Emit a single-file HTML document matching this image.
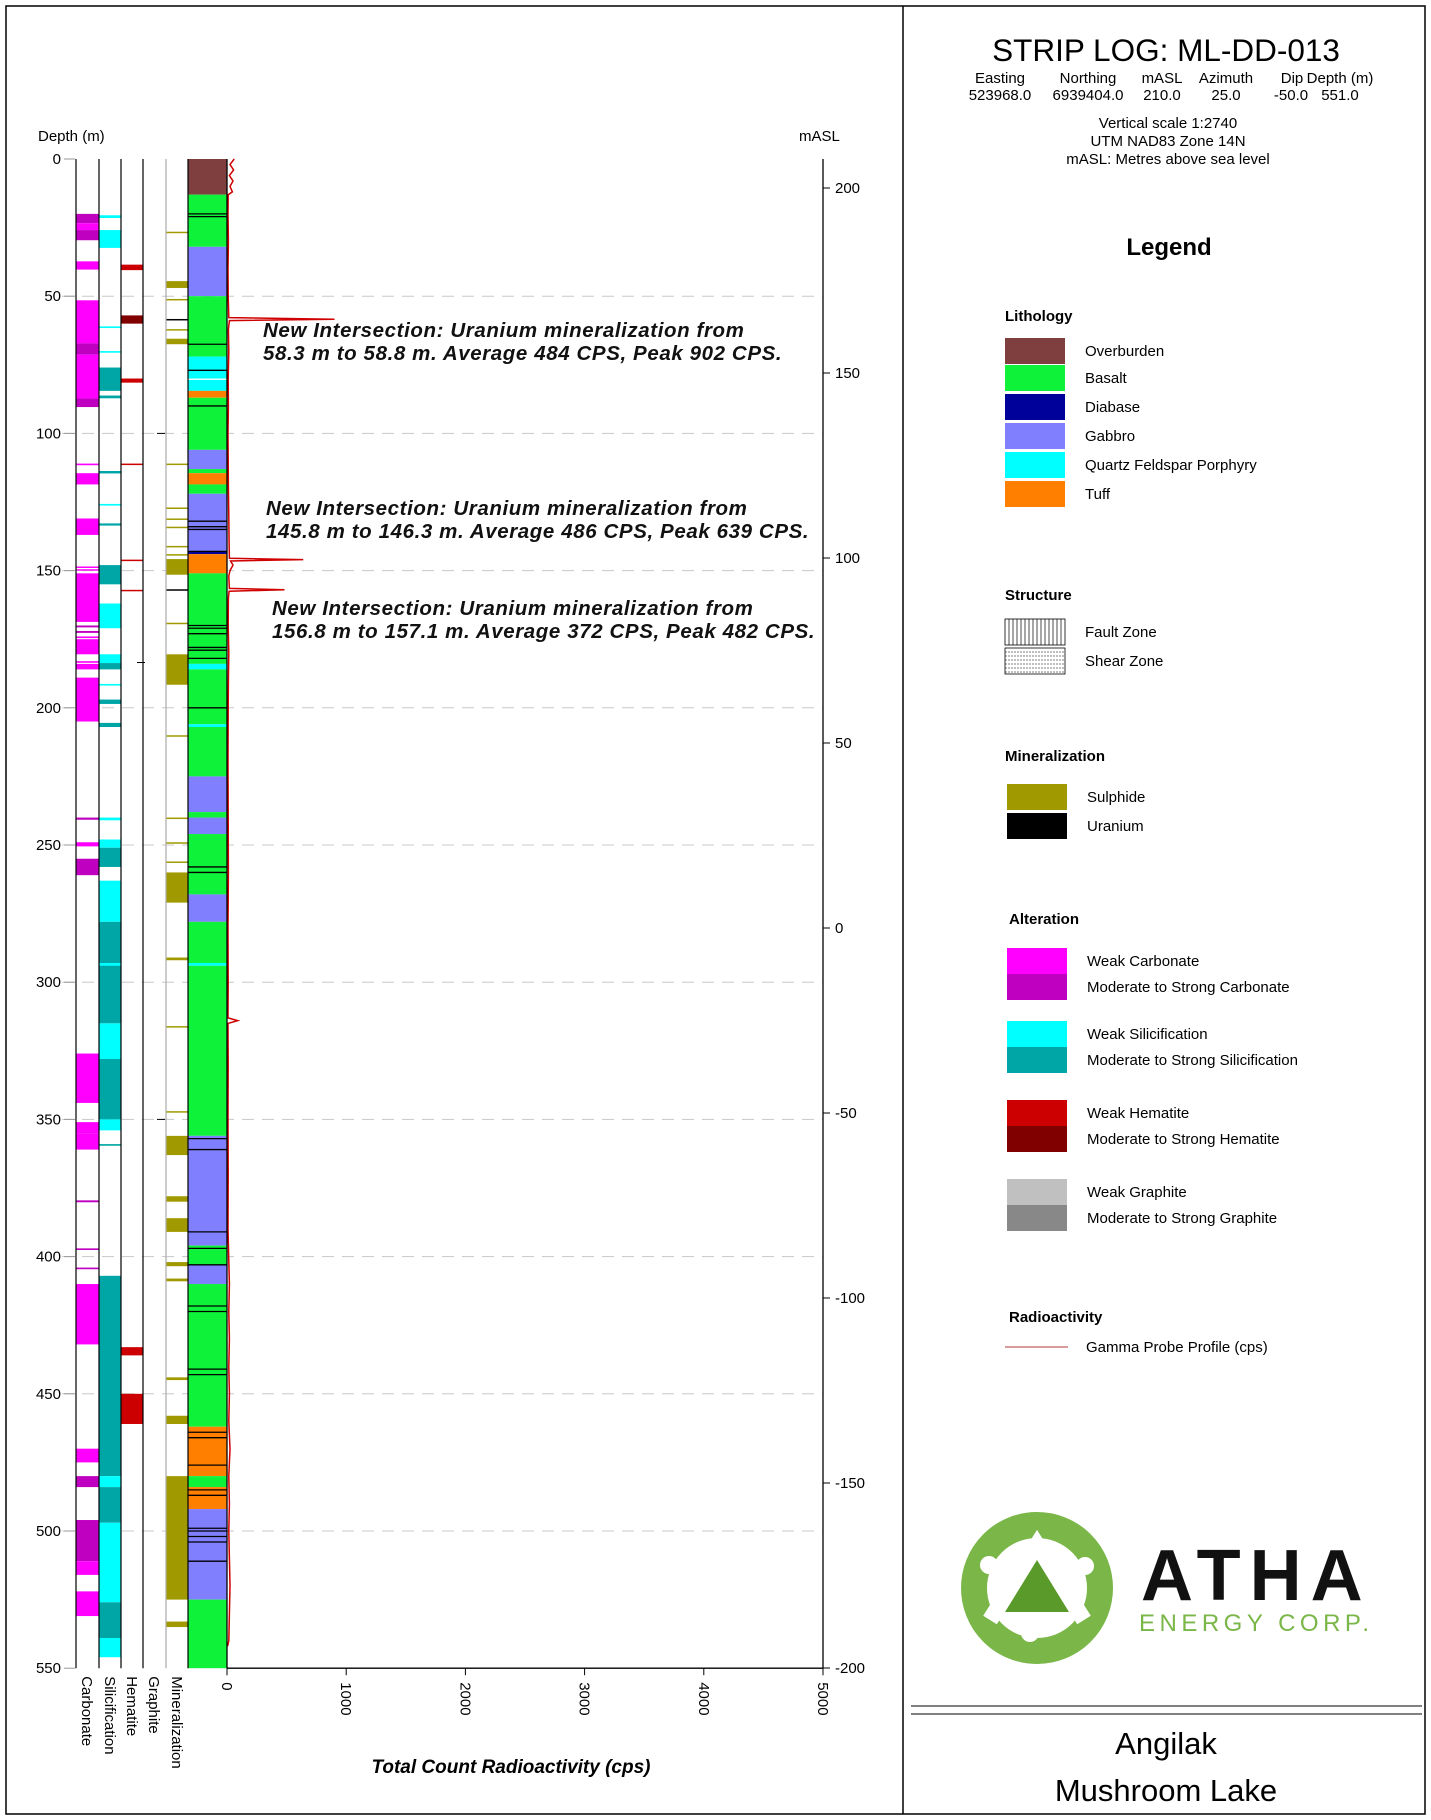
<!DOCTYPE html>
<html><head><meta charset="utf-8"><style>
body{margin:0;background:#fff}
svg{display:block;font-family:"Liberation Sans",Arial,sans-serif}
</style></head><body>
<svg width="1431" height="1820" viewBox="0 0 1431 1820" xmlns="http://www.w3.org/2000/svg">
<rect x="6" y="6" width="1419" height="1808" fill="#fff" stroke="#000" stroke-width="1.5"/>
<line x1="903" y1="6" x2="903" y2="1814" stroke="#000" stroke-width="1.5"/>
<g id="grid"></g>
<g id="cols"></g>
<g id="axes"></g>
<text x="38" y="141" font-size="15">Depth (m)</text>
<text x="799" y="141" font-size="15">mASL</text>
<g font-size="20.5" font-weight="bold" font-style="italic" fill="#111" letter-spacing="0.6">
<text x="263" y="337">New Intersection: Uranium mineralization from</text>
<text x="263" y="360">58.3 m to 58.8 m. Average 484 CPS, Peak 902 CPS.</text>
<text x="266" y="515">New Intersection: Uranium mineralization from</text>
<text x="266" y="538">145.8 m to 146.3 m. Average 486 CPS, Peak 639 CPS.</text>
<text x="272" y="615">New Intersection: Uranium mineralization from</text>
<text x="272" y="638">156.8 m to 157.1 m. Average 372 CPS, Peak 482 CPS.</text>
</g>
<text x="511" y="1773" font-size="19" font-weight="bold" font-style="italic" text-anchor="middle">Total Count Radioactivity (cps)</text>

<!-- header -->
<text x="1166" y="61" font-size="31.5" text-anchor="middle">STRIP LOG: ML-DD-013</text>
<g font-size="15" text-anchor="middle">
<text x="1000" y="83">Easting</text><text x="1000" y="100">523968.0</text>
<text x="1088" y="83">Northing</text><text x="1088" y="100">6939404.0</text>
<text x="1162" y="83">mASL</text><text x="1162" y="100">210.0</text>
<text x="1226" y="83">Azimuth</text><text x="1226" y="100">25.0</text>
<text x="1292" y="83">Dip</text><text x="1291" y="100">-50.0</text>
<text x="1340" y="83">Depth (m)</text><text x="1340" y="100">551.0</text>
<text x="1168" y="128">Vertical scale 1:2740</text>
<text x="1168" y="146">UTM NAD83 Zone 14N</text>
<text x="1168" y="164">mASL: Metres above sea level</text>
</g>
<text x="1169" y="255" font-size="24" font-weight="bold" text-anchor="middle">Legend</text>
<g id="legend" font-size="15"></g>

<!-- logo -->
<g>
<circle cx="1037" cy="1588" r="63" fill="none" stroke="#7ab648" stroke-width="26"/>
<path d="M990 1620 L1037 1545 L1084 1620" fill="none" stroke="#fff" stroke-width="16"/>
<path d="M1005 1612 L1037 1560 L1069 1612 Z" fill="#5a9a2a"/>
<circle cx="1085" cy="1566" r="9" fill="#fff"/><circle cx="989" cy="1565" r="9" fill="#fff"/><circle cx="1030" cy="1633" r="9" fill="#fff"/>
<text x="1141" y="1600" font-size="72" font-weight="bold" fill="#111" letter-spacing="9">ATHA</text>
<text x="1139" y="1631" font-size="24" fill="#7ab648" letter-spacing="4.5">ENERGY CORP.</text>
</g>
<line x1="911" y1="1706" x2="1422" y2="1706" stroke="#000"/>
<line x1="911" y1="1714" x2="1422" y2="1714" stroke="#000"/>
<text x="1166" y="1754" font-size="31" text-anchor="middle">Angilak</text>
<text x="1166" y="1801" font-size="31" text-anchor="middle">Mushroom Lake</text>
</svg>
<script>
const NS="http://www.w3.org/2000/svg";
// ---- data ----
const depthTicks=[0,50,100,150,200,250,300,350,400,450,500,550];
const maslTicks=[200,150,100,50,0,-50,-100,-150,-200];
const cpsTicks=[0,1000,2000,3000,4000,5000];
const lithFrom=[0,13,32,50,72,80.5,84.5,87,106,113,114.5,118.6,122,143,144,151,184,186,206,207,225,238,240,246,268,278,293,294,356,396,403,410,462,480,484,492,525];
const lithTo=[13,32,50,72,80,84.5,87,106,113,114.5,118.6,122,143,144,151,184,186,206,207,225,238,240,246,268,278,293,294,356,396,403,410,462,480,484,492,525,550];
const lithType=["OB","BA","GA","BA","QF","QF","TU","BA","GA","BA","TU","BA","GA","DI","TU","BA","QF","BA","QF","BA","GA","BA","GA","BA","GA","BA","QF","BA","GA","BA","GA","BA","TU","BA","TU","GA","BA"];
const uraniumLines=[20,21,67.5,77,90,132,134,135,143,170,171,173,178,179,182,200,258,260,357,361,391,397,403,418,420,441,443,464,466,476,485,487,499,500,502,504,511];
const carbFrom=[20,23.4,25.9,37.3,51.5,67.2,71.3,87.3,111,114.5,131,148.5,149.5,151,170,172,174,175,183,184,189,240,249,255,326,351,355,379.5,397,404,410,470,480,496,511,522];
const carbTo=[23.4,25.9,29.6,40.3,67.2,71.3,87.3,90.4,111.6,118.6,137,149,150,168.7,170.7,172.7,174.6,180.5,183.6,186,205,240.8,250.5,261,344,355,361,380.2,397.6,404.6,432,475,484,511,516,531];
const carbType=["S","W","S","W","W","S","W","S","W","W","W","W","W","W","S","S","W","W","W","W","W","S","W","S","W","W","W","S","S","S","W","W","S","S","W","W"];
const silFrom=[20.5,25.9,61,70,76,86.2,113.7,125.7,132.8,148,162,180.5,183.7,191.3,197,205.5,240,248,251,263,278,293,315,328,350,359,407,480,484,497,526,539];
const silTo=[21.5,32.4,61.6,70.6,84.5,87.2,114.6,126.3,133.6,155,171,183.7,186,191.9,198.6,207,241,251,258,278,315,294,328,350,354,359.6,480,484,497,526,539,546];
const silType=["W","W","W","W","S","S","S","W","S","S","W","W","S","W","S","S","W","W","S","W","S","W","W","S","W","S","S","W","S","W","S","W"];
const hemFrom=[38.5,57,80,111,146,157,433,450];
const hemTo=[40.5,60,81.5,111.5,146.5,157.5,436,461];
const hemType=["W","S","W","W","W","W","W","W"];
const minFrom=[26.5,44.5,51,58.3,62,65.5,111,127,131,134,141,144,145.8,156.8,169,180.5,210,240,249,256,260,291,316,347,356,378,386,402,408,444,458,480,533];
const minTo=[27,47,51.5,58.8,62.5,67.5,111.5,127.5,131.5,134.5,141.5,144.5,151.5,157.3,169.5,191.6,210.5,240.5,249.5,256.5,271,292,316.5,347.5,363,380,391,403.5,409,445,461,525,535];
const minType=["S","S","S","U","S","S","S","S","S","S","S","S","S","U","S","S","S","S","S","S","S","S","S","S","S","S","S","S","S","S","S","S","S"];
const gammaDepth=[0,2,4,6,8,10,12,13,20,30,40,50,57.8,58.4,58.9,62,70,80,90,100,110,120,130,140,145.5,146,146.5,148,150,152,156.5,157,157.5,160,170,180,190,200,220,240,260,280,300,313,314,315,330,350,370,390,410,420,430,440,450,460,470,480,490,500,510,520,530,540,542];
const gammaCps=[60,25,55,20,50,25,45,10,8,12,8,10,15,902,20,12,15,10,12,8,10,12,15,18,20,639,30,50,25,15,20,482,18,12,10,15,12,10,8,10,12,8,10,8,90,8,10,8,10,8,20,15,20,15,20,15,25,15,20,15,20,25,20,15,5];
// ---- scales ----
const y0=159,pxm=2.744;
const dy=d=>y0+d*pxm;
const my=m=>188+(200-m)*3.7;
const cx=c=>227+c*0.1192;
const litCol={OB:"#7f3f3f",BA:"#0ef23a",DI:"#00009a",GA:"#8080ff",QF:"#00ffff",TU:"#ff8000"};
function mk(tag,attrs,parent){const e=document.createElementNS(NS,tag);for(const k in attrs)e.setAttribute(k,attrs[k]);parent.appendChild(e);return e;}
const grid=document.getElementById('grid'),cols=document.getElementById('cols'),axes=document.getElementById('axes');
depthTicks.forEach(d=>{
 if(d>0&&d<550){const l=mk('line',{x1:62,x2:823,y1:dy(d),y2:dy(d),stroke:'#c8c8c8','stroke-dasharray':'12 8'},grid);
 
 }
 const t=mk('text',{x:61,y:dy(d)+5,'font-size':15,'text-anchor':'end'},axes);t.textContent=d;
 
 
 mk('line',{x1:64,x2:75,y1:dy(d),y2:dy(d),stroke:'#999'},axes);
});
function intervals(from,to,type,colors,x,w,name){
 from.forEach((f,i)=>{const r=mk('rect',{x:x,y:dy(f),width:w,height:Math.max(1.5,dy(to[i])-dy(f)),fill:colors[type[i]]},cols);
 
 });
}
intervals(carbFrom,carbTo,carbType,{W:"#ff00ff",S:"#c000c0"},76,23,'carbonate');
intervals(silFrom,silTo,silType,{W:"#00ffff",S:"#00a6a6"},99,22,'silicification');
intervals(hemFrom,hemTo,hemType,{W:"#cc0000",S:"#800000"},121,22,'hematite');
intervals(minFrom,minTo,minType,{S:"#a09a00",U:"#000000"},166,22,'mineralization');
intervals(lithFrom,lithTo,lithType,litCol,188,39,'lithology');
uraniumLines.forEach(d=>{const l=mk('line',{x1:188,x2:227,y1:dy(d),y2:dy(d),stroke:'#000','stroke-width':1.3},cols);
 
 });
[[100,163],[183.5,143],[350,163]].forEach(g=>mk('line',{x1:g[1]-6,x2:g[1]+2,y1:dy(g[0]),y2:dy(g[0]),stroke:'#000'},cols));
[[76,'#000'],[99,'#000'],[121,'#000'],[143,'#000'],[166,'#aaa'],[188,'#000']].forEach(c=>mk('line',{x1:c[0],x2:c[0],y1:y0,y2:dy(550),stroke:c[1],'stroke-width':1.2},cols));
// gamma
const pts=gammaDepth.map((d,i)=>cx(gammaCps[i]).toFixed(1)+','+dy(d).toFixed(1)).join(' ');
const gl=mk('polyline',{points:pts,fill:'none',stroke:'#d00000','stroke-width':1.5},cols);


// axes
mk('line',{x1:227,x2:227,y1:y0,y2:dy(550),stroke:'#000','stroke-width':1.3},axes);
mk('line',{x1:227,x2:823,y1:dy(550),y2:dy(550),stroke:'#000','stroke-width':1.3},axes);
mk('line',{x1:823,x2:823,y1:y0,y2:dy(550),stroke:'#000','stroke-width':1.3},axes);
cpsTicks.forEach(c=>{mk('line',{x1:cx(c),x2:cx(c),y1:dy(550),y2:dy(550)+7,stroke:'#000'},axes);
 const t=mk('text',{x:0,y:0,'font-size':15,transform:`translate(${cx(c)-5},${dy(550)+14}) rotate(90)`},axes);t.textContent=c;
 
 });
maslTicks.forEach(m=>{mk('line',{x1:823,x2:830,y1:my(m),y2:my(m),stroke:'#000'},axes);
 const t=mk('text',{x:835,y:my(m)+5,'font-size':15},axes);t.textContent=m;
 
 });
[['Carbonate',82],['Silicification',105],['Hematite',127],['Graphite',149],['Mineralization',172]].forEach(c=>{
 const t=mk('text',{'font-size':15,transform:`translate(${c[1]},${dy(550)+8}) rotate(90)`},axes);t.textContent=c[0];
 
 });
// legend
const lg=document.getElementById('legend');
function head(txt,x,y){const t=mk('text',{x:x,y:y,'font-weight':'bold','font-size':15},lg);t.textContent=txt;
 
 }
function entry(col,txt,x,y,h,pat){const r=mk('rect',{x:x,y:y,width:60,height:h,fill:col,stroke:pat?'#000':'none','stroke-width':0.8},lg);
 
 
 if(pat==='fault'){for(let i=4;i<60;i+=4)mk('line',{x1:x+i,x2:x+i,y1:y,y2:y+h,stroke:'#000','stroke-width':0.7},lg);}
 if(pat==='shear'){for(let j=4;j<h;j+=4)mk('line',{x1:x,x2:x+60,y1:y+j,y2:y+j,stroke:'#000','stroke-width':0.6,'stroke-dasharray':'2 1'},lg);}
 const t=mk('text',{x:x+80,y:y+h/2+5},lg);t.textContent=txt;
 
 }
head('Lithology',1005,321);
[['#7f3f3f','Overburden',338],['#0ef23a','Basalt',365],['#00009a','Diabase',394],['#8080ff','Gabbro',423],['#00ffff','Quartz Feldspar Porphyry',452],['#ff8000','Tuff',481]].forEach(e=>entry(e[0],e[1],1005,e[2],26));
head('Structure',1005,600);
entry('#fff','Fault Zone',1005,619,26,'fault');entry('#fff','Shear Zone',1005,648,26,'shear');
head('Mineralization',1005,761);
entry('#a09a00','Sulphide',1007,784,26);entry('#000','Uranium',1007,813,26);
head('Alteration',1009,924);
[['#ff00ff','Weak Carbonate',948],['#c000c0','Moderate to Strong Carbonate',974],['#00ffff','Weak Silicification',1021],['#00a6a6','Moderate to Strong Silicification',1047],['#cc0000','Weak Hematite',1100],['#800000','Moderate to Strong Hematite',1126],['#c0c0c0','Weak Graphite',1179],['#888888','Moderate to Strong Graphite',1205]].forEach(e=>entry(e[0],e[1],1007,e[2],26));
head('Radioactivity',1009,1322);
mk('line',{x1:1005,x2:1068,y1:1347,y2:1347,stroke:'#c06060','stroke-width':1.3},lg);
const rt=mk('text',{x:1086,y:1352},lg);rt.textContent='Gamma Probe Profile (cps)';


</script>
</body></html>
